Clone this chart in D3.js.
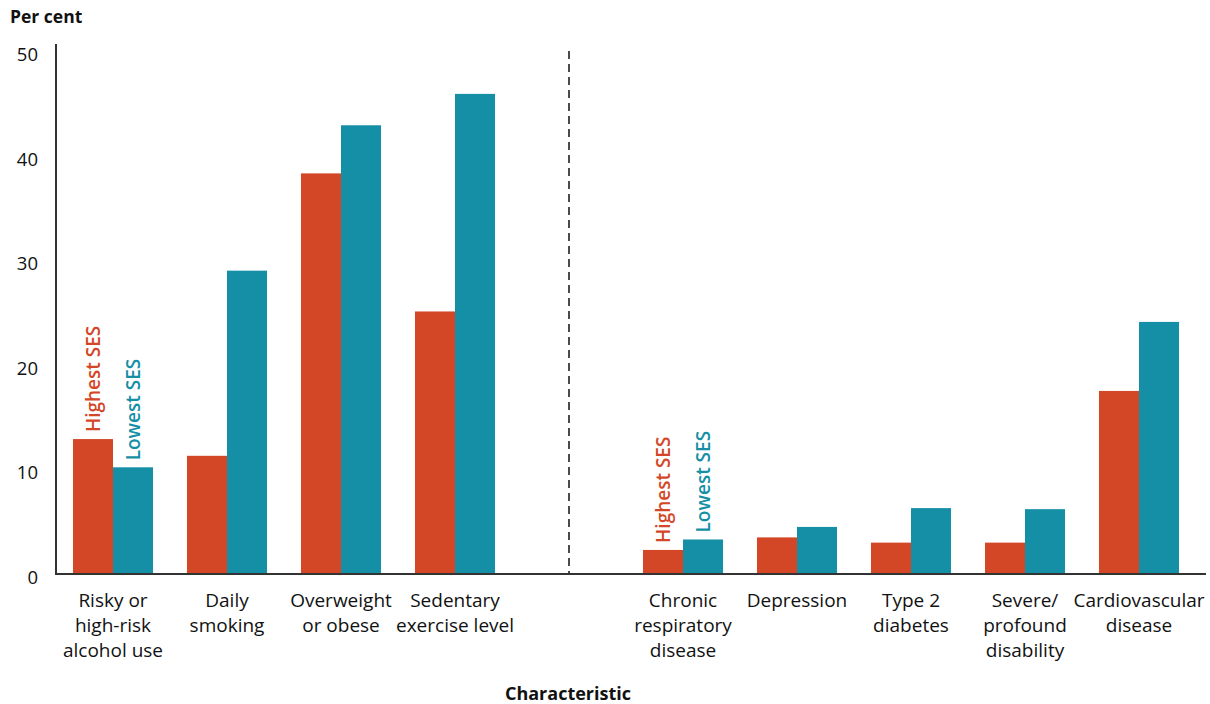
<!DOCTYPE html>
<html>
<head>
<meta charset="utf-8">
<script src="https://cdn.jsdelivr.net/npm/d3@7"></script>
<style>
  body { margin: 0; background: #fff; }
  svg { display: block; font-family: "Open Sans", sans-serif; }
</style>
</head>
<body>
<svg id="chart" width="1210" height="704"></svg>
<script>
// ---- data ----
const categories = [
  ["Risky or", "high-risk", "alcohol use"],
  ["Daily", "smoking"],
  ["Overweight", "or obese"],
  ["Sedentary", "exercise level"],
  null, // divider slot
  ["Chronic", "respiratory", "disease"],
  ["Depression"],
  ["Type 2", "diabetes"],
  ["Severe/", "profound", "disability"],
  ["Cardiovascular", "disease"]
];
const highestSES = [12.9, 11.3, 38.3, 25.1, null, 2.3, 3.5, 3.0, 3.0, 17.5];
const lowestSES  = [10.2, 29.0, 42.9, 45.9, null, 3.3, 4.5, 6.3, 6.2, 24.1];
const yTicks = [0, 10, 20, 30, 40, 50];
const seriesNames = ["Highest SES", "Lowest SES"];
const colors = ["#d34727", "#158fa6"];
const labelledGroups = [0, 5];

// ---- layout ----
const svg = d3.select("#chart");
const mLeft = 56, mRight = 1196, mTop = 51, mBottom = 574;

const x = d3.scaleBand()
  .domain(d3.range(categories.length))
  .range([mLeft, mRight])
  .paddingInner(0.298)
  .paddingOuter(0.149);
const x1 = d3.scaleBand().domain([0, 1]).range([0, x.bandwidth()]);
const y = d3.scaleLinear().domain([0, 50]).range([mBottom, mTop]);

// y tick labels
svg.append("g").selectAll("text").data(yTicks).join("text")
  .attr("x", 38).attr("y", d => y(d) + 10)
  .attr("text-anchor", "end")
  .attr("font-size", 18.5).attr("fill", "#111")
  .text(d => d);

// title
svg.append("text").attr("x", 10).attr("y", 23)
  .attr("font-size", 17.5).attr("font-weight", 700).attr("fill", "#111")
  .text("Per cent");

// bars
const series = [highestSES, lowestSES];
series.forEach((vals, si) => {
  svg.append("g").selectAll("rect")
    .data(vals.map((v, i) => ({v, i})).filter(d => d.v != null))
    .join("rect")
    .attr("x", d => x(d.i) + x1(si))
    .attr("width", x1.bandwidth())
    .attr("y", d => y(d.v))
    .attr("height", d => y(0) - y(d.v))
    .attr("fill", colors[si]);
});

// series labels (rotated)
labelledGroups.forEach(gi => {
  series.forEach((vals, si) => {
    const cx = x(gi) + x1(si) + x1.bandwidth() / 2;
    const ty = y(vals[gi]) - 7;
    svg.append("text")
      .attr("transform", `translate(${cx + 7},${ty}) rotate(-90)`)
      .attr("font-size", 19).attr("font-weight", 600)
      .attr("fill", colors[si])
      .text(seriesNames[si]);
  });
});

// divider dashed line
const divIdx = categories.indexOf(null);
const divX = x(divIdx) + x.bandwidth() / 2;
svg.append("line")
  .attr("x1", divX).attr("x2", divX)
  .attr("y1", mTop).attr("y2", mBottom)
  .attr("stroke", "#111").attr("stroke-width", 1.5)
  .attr("stroke-dasharray", "8,5");

// axes lines
svg.append("line").attr("x1", mLeft).attr("x2", mLeft)
  .attr("y1", 44).attr("y2", mBottom + 1)
  .attr("stroke", "#333").attr("stroke-width", 2);
svg.append("line").attr("x1", mLeft - 1).attr("x2", 1206)
  .attr("y1", mBottom).attr("y2", mBottom)
  .attr("stroke", "#333").attr("stroke-width", 2);

// category labels
categories.forEach((lines, i) => {
  if (!lines) return;
  const t = svg.append("text")
    .attr("text-anchor", "middle")
    .attr("font-size", 19).attr("fill", "#111");
  lines.forEach((ln, k) => {
    t.append("tspan")
      .attr("x", x(i) + x.bandwidth() / 2)
      .attr("y", 607 + k * 25)
      .text(ln);
  });
});

// x-axis title
svg.append("text").attr("x", 568).attr("y", 700)
  .attr("text-anchor", "middle")
  .attr("font-size", 18).attr("font-weight", 700).attr("fill", "#111")
  .text("Characteristic");
</script>
</body>
</html>
